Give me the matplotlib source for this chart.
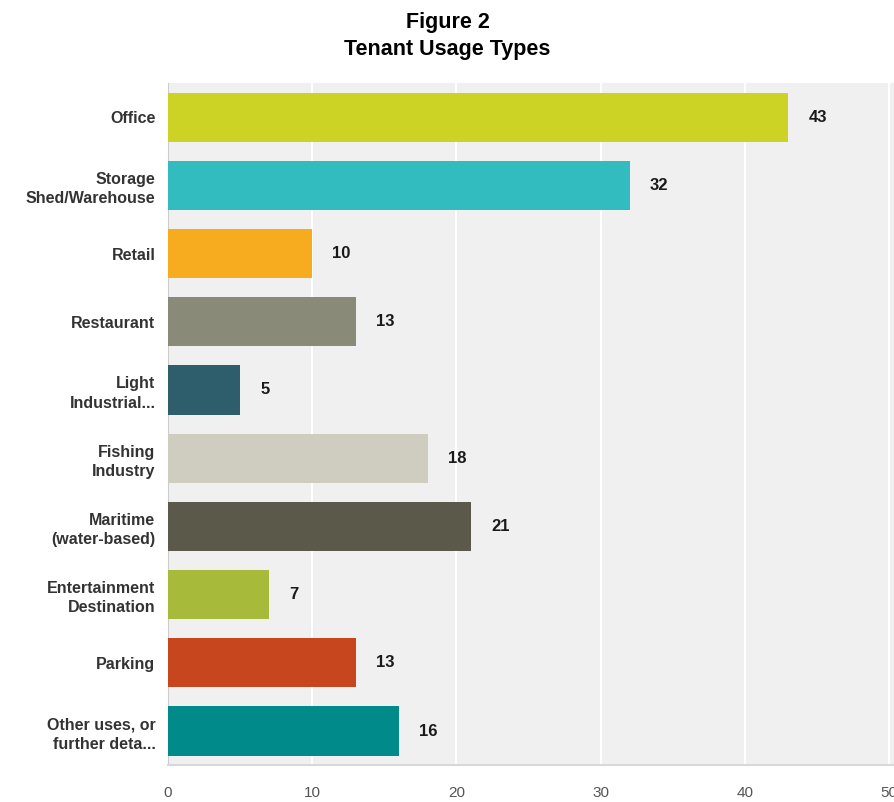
import matplotlib.pyplot as plt

# Tenant usage counts, top to bottom
categories = ["Office", "Storage\nShed/Warehouse", "Retail", "Restaurant",
              "Light\nIndustrial...", "Fishing\nIndustry", "Maritime\n(water-based)",
              "Entertainment\nDestination", "Parking", "Other uses, or\nfurther deta..."]
counts = [43, 32, 10, 13, 5, 18, 21, 7, 13, 16]
colors = ["#cdd325", "#33bcbf", "#f7ab1f", "#8a8a79", "#2e5e6b",
          "#cfcdc0", "#5b5a4a", "#a8ba3a", "#c8461d", "#008a8a"]
xticks = [0, 10, 20, 30, 40, 50]

plt.rcParams['font.family'] = ['Liberation Sans', 'DejaVu Sans']

fig = plt.figure(figsize=(8.95, 8.02), dpi=100)
ax = fig.add_axes([0.1877, 0.046, 0.8123, 0.8505])

pos = list(range(len(categories)))
ax.barh(pos, counts, height=0.72, color=colors, zorder=3)

#value labels to the right of each bar
for y, v in zip(pos, counts):
    ax.text(v + 1.4, y, str(v), va='center', ha='left', fontsize=12,
            fontweight='bold', color='#1a1a1a')

ax.set_facecolor('#f0f0f0')
ax.set_xlim(0, 50.4)
ax.set_ylim(len(categories) - 0.5, -0.5)
ax.set_xticks(xticks)
ax.set_xticklabels([str(t) for t in xticks], fontsize=11, color='#555555')
ax.set_yticks(pos)
ax.set_yticklabels(categories, fontsize=11.5, fontweight='bold', color='#333333',
                   linespacing=1.35)
ax.tick_params(length=0)
ax.tick_params(axis='y', pad=9)
ax.tick_params(axis='x', pad=15)
ax.xaxis.grid(True, color='white', linewidth=1.5, zorder=1)
for s in ['top', 'right']:
    ax.spines[s].set_visible(False)
ax.spines['left'].set_color('#cccccc')
ax.spines['bottom'].set_color('#d8d8d8')
ax.spines['bottom'].set_linewidth(1.5)

fig.text(0.5, 0.965, "Figure 2", ha='center', va='baseline', fontsize=15.5, fontweight='bold')
fig.text(0.5, 0.9314, "Tenant Usage Types", ha='center', va='baseline', fontsize=15.5, fontweight='bold')

plt.savefig("out.png", dpi=100)
